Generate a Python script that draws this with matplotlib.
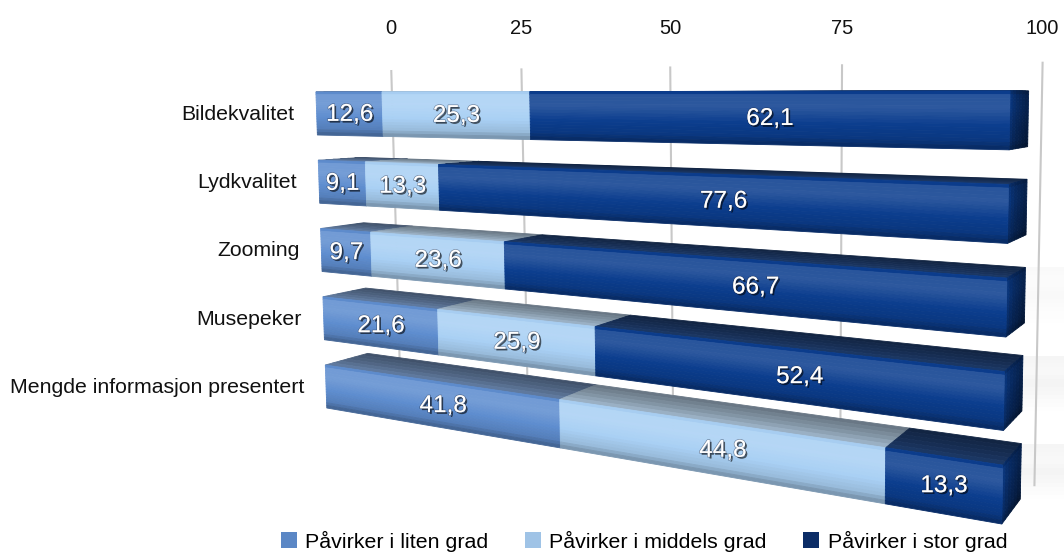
import numpy as np
import matplotlib
matplotlib.use("Agg")
import matplotlib.pyplot as plt
from matplotlib.patches import Polygon, Patch
from matplotlib import patheffects as pe
from matplotlib.colors import to_rgb

# ---------------------------------------------------------------- data
categories = ["Bildekvalitet", "Lydkvalitet", "Zooming", "Musepeker",
              "Mengde informasjon presentert"]
series_names = ["Påvirker i liten grad", "Påvirker i middels grad",
                "Påvirker i stor grad"]
liten = [12.6, 9.1, 9.7, 21.6, 41.8]
middels = [25.3, 13.3, 23.6, 25.9, 44.8]
stor = [62.1, 77.6, 66.7, 52.4, 13.3]
ticks = [0, 25, 50, 75, 100]

# ---------------------------------------------------------------- style
face_colors = ["#5e8dcf", "#a9d0f4", "#0b3d8e"]
legend_colors = ["#5b87c5", "#9fc3e6", "#0b2c66"]
FONT = "Liberation Sans"

W, H, DPI = 1064, 554, 100
fig = plt.figure(figsize=(W / DPI, H / DPI), dpi=DPI)
ax = fig.add_axes([0, 0, 1, 1])
ax.set_xlim(0, W)
ax.set_ylim(H, 0)
ax.axis("off")

# ---------------------------------------------------------------- 3D view
# value axis recedes to the left, slight downward tilt of the camera
CX, HY = 532.0, 95.0
A0, BX, MX, DZ = -216.0, 5.646, 0.002707, 798.0
VX, VY = 781.0, 13600.0
BAR_DEPTH, WALL_DEPTH = 0.045, 0.081
ROW_PITCH, ROW_BOTTOM0, BAR_HEIGHT = 68.25, 40.0, 43.0
WALL_TOP, WALL_BOTTOM = -27.0, 317.0
LEFT_BEVEL = 10.0   # screen offset of the rounded left end of the top face


def project(x, y, z=0.0):
    x = np.asarray(x, float)
    y = np.asarray(y, float)
    w = 1.0 - MX * x + z
    px = CX + (A0 + BX * x + DZ * z) / w
    py = HY + y / w
    px = VX + (px - VX) * (VY - py) / (VY - HY)
    return px, py


def value_at_screen_x(target, y, z):
    grid = np.linspace(0, 100, 4001)
    px, _ = project(grid, y, z)
    return float(np.interp(target, px, grid))


def tone(color, f, desat=0.0):
    c = np.array(to_rgb(color))
    if desat:
        c = c * (1 - desat) + c.mean() * desat
    c = c + (1 - c) * (f - 1) if f >= 1 else c * f
    return np.clip(c, 0, 1)


def prof(points, t):
    return np.interp(t, [a for a, _ in points], [b for _, b in points])


FRONT = [(0.0, 0.9), (0.08, 1.12), (0.3, 1.14), (0.6, 1.0), (0.85, 0.9), (1.0, 0.68)]
TOP = [(0.0, 0.55), (0.6, 0.72), (1.0, 0.88)]
CAP = [(0.0, 0.8), (0.35, 0.62), (1.0, 0.45)]


def poly(pts3d, color, alpha=1.0, zorder=2):
    xs, ys, zs = zip(*pts3d)
    px, py = project(np.array(xs), np.array(ys), np.array(zs))
    ax.add_patch(Polygon(np.column_stack([px, py]), closed=True,
                         facecolor=color, edgecolor=color, linewidth=0.6,
                         alpha=alpha, zorder=zorder))


# ---------------------------------------------------------------- wall
for t in ticks:
    x0, y0 = project(t, WALL_TOP, WALL_DEPTH)
    x1, y1 = project(t, WALL_BOTTOM, WALL_DEPTH)
    ax.plot([x0, x1], [y0, y1], color="#c8c8c8", lw=1.5, zorder=1,
            solid_capstyle="butt")
    ax.text(x0, 28, str(t), ha="center", va="center", fontsize=14.5,
            family=FONT, color="#111111")

# soft shadows of the lower bars on the wall
for i in (2, 3, 4):
    y_bot = ROW_BOTTOM0 + i * ROW_PITCH
    y_top = y_bot - BAR_HEIGHT
    n = 14
    for k in range(n):
        ya = y_top + (y_bot - y_top) * k / n
        yb = y_top + (y_bot - y_top) * (k + 1) / n
        xa, pa = project(100, ya, BAR_DEPTH)
        xb, pb = project(100, yb, BAR_DEPTH)
        strength = prof([(0, 0.08), (0.3, 0.04), (0.5, 0.09), (0.8, 0.03), (1, 0.0)],
                        (k + 0.5) / n) * (0.5 if i == 2 else 1.0)
        ax.add_patch(Polygon([[xa, pa], [W, pa], [W, pb], [xb, pb]],
                             facecolor="#7a7a7a", edgecolor="none",
                             alpha=strength, zorder=0.5))

# ---------------------------------------------------------------- bars
values = np.array([liten, middels, stor])
NY, NZ = 16, 6
for i, cat in enumerate(categories):
    y_bot = ROW_BOTTOM0 + i * ROW_PITCH
    y_top = y_bot - BAR_HEIGHT
    lefts = np.concatenate([[0], np.cumsum(values[:, i])[:-1]])
    rights = lefts + values[:, i]
    front_left_x = project(0, y_top, 0)[0]

    # top faces (left end rounded off, so the back edge starts a bit later)
    for s in range(3):
        x1 = rights[s]
        for k in range(NZ):
            za = BAR_DEPTH * (1 - k / NZ)
            zb = BAR_DEPTH * (1 - (k + 1) / NZ)
            if s == 0:
                xa = value_at_screen_x(front_left_x + LEFT_BEVEL * za / BAR_DEPTH, y_top, za)
                xb = value_at_screen_x(front_left_x + LEFT_BEVEL * zb / BAR_DEPTH, y_top, zb)
            else:
                xa = xb = lefts[s]
            col = tone(face_colors[s], prof(TOP, (k + 0.5) / NZ), desat=0.35)
            poly([(xa, y_top, za), (x1, y_top, za), (x1, y_top, zb), (xb, y_top, zb)],
                 col, zorder=2 + i * 0.1)

    # end cap of the last segment
    xe = rights[-1]
    for k in range(NZ):
        za = BAR_DEPTH * k / NZ
        zb = BAR_DEPTH * (k + 1) / NZ
        for j in range(NY):
            ya = y_top + (y_bot - y_top) * j / NY
            yb = y_top + (y_bot - y_top) * (j + 1) / NY
            f = prof(CAP, (k + 0.5) / NZ) * prof(FRONT, (j + 0.5) / NY)
            poly([(xe, ya, za), (xe, ya, zb), (xe, yb, zb), (xe, yb, za)],
                 tone(face_colors[2], f), zorder=2.02 + i * 0.1)

    # front faces
    for s in range(3):
        x0, x1 = lefts[s], rights[s]
        for j in range(NY):
            ya = y_top + (y_bot - y_top) * j / NY
            yb = y_top + (y_bot - y_top) * (j + 1) / NY
            col = tone(face_colors[s], prof(FRONT, (j + 0.5) / NY))
            poly([(x0, ya, 0), (x1, ya, 0), (x1, yb, 0), (x0, yb, 0)],
                 col, zorder=2.05 + i * 0.1)

    # value labels
    y_mid = (y_top + y_bot) / 2
    for s in range(3):
        pa = project(lefts[s], y_mid)
        pb = project(rights[s], y_mid)
        ax.text((pa[0] + pb[0]) / 2, (pa[1] + pb[1]) / 2 + 1,
                f"{values[s, i]:.1f}".replace(".", ","),
                ha="center", va="center", fontsize=17.5, family=FONT,
                color="white", zorder=10,
                path_effects=[pe.withSimplePatchShadow(offset=(1.3, -1.3),
                                                       shadow_rgbFace="black",
                                                       alpha=0.6),
                              pe.withStroke(linewidth=1.0,
                                            foreground=(0.1, 0.15, 0.25, 0.45))])

    # category label
    cx_, cy_ = project(0, y_mid)
    ax.text(cx_ - 22, cy_ + 1, cat, ha="right", va="center", fontsize=15.3,
            family=FONT, color="#111111")

# ---------------------------------------------------------------- legend
handles = [Patch(facecolor=c, edgecolor="none") for c in legend_colors]
ax.legend(handles, series_names, loc="center", bbox_to_anchor=(644, 541),
          bbox_transform=ax.transData, ncol=3, frameon=False,
          prop={"family": FONT, "size": 15.4}, handlelength=0.75,
          handleheight=0.75, columnspacing=1.7, handletextpad=0.4,
          borderpad=0, borderaxespad=0)

fig.savefig("out.png", dpi=DPI)
